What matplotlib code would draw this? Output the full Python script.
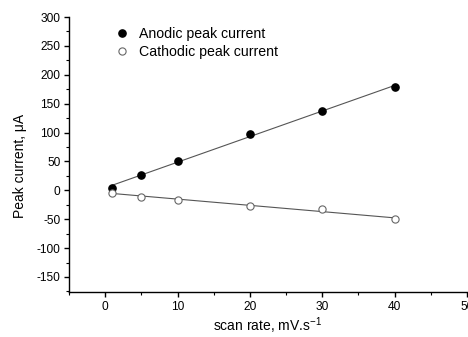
import numpy as np
import matplotlib
matplotlib.use("Agg")
import matplotlib.pyplot as plt
from matplotlib.ticker import MultipleLocator

plt.rcParams['font.family'] = ['Liberation Sans', 'DejaVu Sans']
plt.rcParams['axes.unicode_minus'] = False

scan_rate = [1, 5, 10, 20, 30, 40]
anodic = [4, 27, 51, 98, 138, 178]
cathodic = [-4.5, -11, -16, -26.5, -33, -50]

fig = plt.figure(figsize=(4.68, 3.37), dpi=100)
W, H = 468, 337
ax = fig.add_axes([69 / W, (H - 292) / H, (467 - 69) / W, (292 - 17) / H])

x = np.array(scan_rate, float)
for ys in [anodic, cathodic]:
    p = np.polyfit(x, ys, 1)
    xl = np.array([x.min(), x.max()])
    ax.plot(xl, np.polyval(p, xl), color='#555555', lw=0.8, zorder=2)

ax.plot(scan_rate, anodic, 'o', ms=5.2, mfc='black', mec='black', ls='none',
        label='Anodic peak current', zorder=3)
ax.plot(scan_rate, cathodic, 'o', ms=5.2, mfc='white', mec='#666666', mew=0.8, ls='none',
        label='Cathodic peak current', zorder=3)

ax.set_xlim(-5, 50)
ax.set_ylim(-176, 300)
ax.xaxis.set_major_locator(MultipleLocator(10))
ax.xaxis.set_minor_locator(MultipleLocator(5))
ax.yaxis.set_minor_locator(MultipleLocator(25))
ax.set_yticks(np.arange(-150, 301, 50))

for s in ['top', 'right']:
    ax.spines[s].set_visible(False)
for s in ['left', 'bottom']:
    ax.spines[s].set_linewidth(1.0)
ax.tick_params(which='major', direction='out', length=3.8, width=1, labelsize=8.6, pad=2.5)
ax.tick_params(which='minor', direction='out', length=2.3, width=0.8)

ax.set_xlabel('scan rate, mV.s$^{\\mathregular{-1}}$', fontsize=10, labelpad=2)
ax.set_ylabel('Peak current, μA', fontsize=10)
ax.yaxis.set_label_coords(-0.105, 0.46)

ax.legend(loc='upper left', bbox_to_anchor=(0.1, 0.985), frameon=False, fontsize=10.2,
          handletextpad=0.75, borderaxespad=0, labelspacing=0.3, handlelength=1.0)

fig.savefig('out.png', dpi=100)
